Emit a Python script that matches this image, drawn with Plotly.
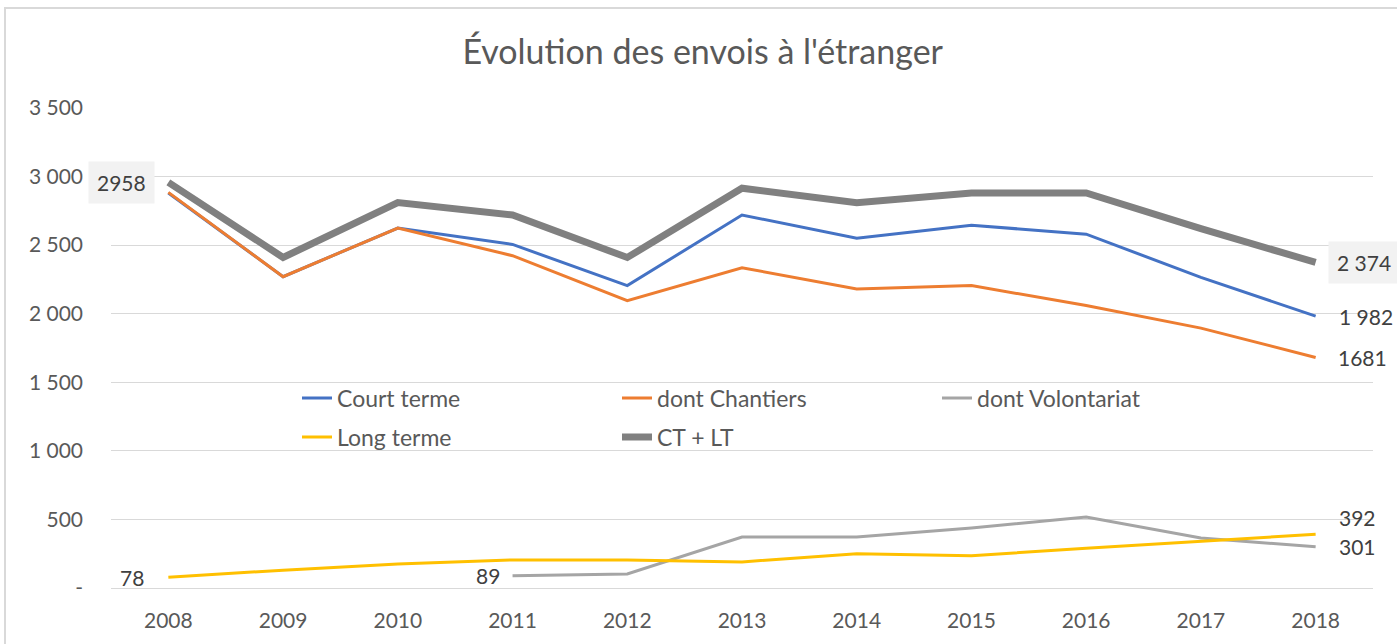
import plotly.graph_objects as go

years = ["2008", "2009", "2010", "2011", "2012", "2013", "2014", "2015", "2016", "2017", "2018"]
court_terme = [2880, 2270, 2625, 2505, 2205, 2720, 2550, 2645, 2580, 2265, 1982]
chantiers = [2885, 2270, 2625, 2423, 2095, 2335, 2180, 2205, 2060, 1895, 1681]
volontariat = [None, None, None, 89, 102, 372, 372, 438, 518, 365, 301]
long_terme = [78, 130, 175, 205, 205, 190, 250, 235, 290, 340, 392]
ct_lt = [2958, 2410, 2810, 2720, 2410, 2915, 2810, 2880, 2880, 2620, 2374]

y_tickvals = [0, 500, 1000, 1500, 2000, 2500, 3000, 3500]
y_ticktext = ["-", "500", "1 000", "1 500", "2 000", "2 500", "3 000", "3 500"]

FONT = "Lato"
TXT = "#595959"
LBL = "#404040"

fig = go.Figure()
fig.add_trace(go.Scatter(x=years, y=court_terme, name="Court terme", mode="lines",
                         line=dict(color="#4472C4", width=3), legend="legend"))
fig.add_trace(go.Scatter(x=years, y=chantiers, name="dont Chantiers", mode="lines",
                         line=dict(color="#ED7D31", width=3), legend="legend"))
fig.add_trace(go.Scatter(x=years, y=volontariat, name="dont Volontariat", mode="lines",
                         line=dict(color="#A5A5A5", width=3), legend="legend"))
fig.add_trace(go.Scatter(x=years, y=long_terme, name="Long terme", mode="lines",
                         line=dict(color="#FFC000", width=3), legend="legend2"))
fig.add_trace(go.Scatter(x=years, y=ct_lt, name="CT + LT", mode="lines",
                         line=dict(color="#808080", width=7), legend="legend2"))

last = len(years) - 1
ann_font = dict(family=FONT, size=21, color=LBL)
annotations = [
    dict(x=0, y=ct_lt[0], text=str(ct_lt[0]), xanchor="right", yanchor="middle",
         xshift=-13, bgcolor="#F2F2F2", borderpad=8),
    dict(x=last, y=ct_lt[last], text="2 374", xanchor="left", yanchor="middle",
         xshift=12, bgcolor="#F2F2F2", borderpad=8),
    dict(x=last, y=court_terme[last], text="1 982", xanchor="left", yanchor="middle", xshift=21),
    dict(x=last, y=chantiers[last], text=str(chantiers[last]), xanchor="left", yanchor="middle", xshift=20),
    dict(x=last, y=long_terme[last], text=str(long_terme[last]), xanchor="left", yanchor="middle",
         xshift=21, yshift=17),
    dict(x=last, y=volontariat[last], text=str(volontariat[last]), xanchor="left", yanchor="middle", xshift=21),
    dict(x=0, y=long_terme[0], text=str(long_terme[0]), xanchor="right", yanchor="middle", xshift=-22),
    dict(x=3, y=volontariat[3], text=str(volontariat[3]), xanchor="right", yanchor="middle", xshift=-11),
]
for a in annotations:
    a.update(xref="x", yref="y", showarrow=False, font=ann_font)

L, R, T, B = 111, 24, 108, 56
W, H = 1397, 644
pw = W - L - R
ph = H - T - B

def px_to_paper_x(px):
    return (px - L) / pw

def py_to_paper_y(py):
    return (H - B - py) / ph

legend_common = dict(orientation="h", xanchor="left", yanchor="middle", entrywidth=275,
                     bgcolor="rgba(0,0,0,0)", font=dict(family=FONT, size=23, color=TXT),
                     traceorder="normal")

fig.update_layout(
    width=W, height=H,
    margin=dict(l=L, r=R, t=T, b=B),
    paper_bgcolor="white", plot_bgcolor="white",
    title=dict(text="Évolution des envois à l'étranger", x=0.503, xanchor="center",
               y=1 - 52 / H, yanchor="middle",
               font=dict(family=FONT, size=34, color=TXT)),
    font=dict(family=FONT, color=TXT),
    xaxis=dict(type="category", range=[-0.5, 10.5], showgrid=False, showline=False,
               ticks="", tickfont=dict(family=FONT, size=21, color=TXT), ticklabelstandoff=18),
    yaxis=dict(range=[0, 3500], tickvals=y_tickvals, ticktext=y_ticktext,
               showgrid=True, gridcolor="#D9D9D9", gridwidth=1, zeroline=True,
               zerolinecolor="#D9D9D9", zerolinewidth=1, showline=False, ticks="",
               tickfont=dict(family=FONT, size=21, color=TXT), ticklabelstandoff=27),
    legend=dict(x=px_to_paper_x(297), y=py_to_paper_y(398), **legend_common),
    legend2=dict(x=px_to_paper_x(297), y=py_to_paper_y(437), **legend_common),
    annotations=annotations,
    shapes=[dict(type="rect", xref="paper", yref="paper",
                 x0=px_to_paper_x(5), x1=px_to_paper_x(1420),
                 y0=py_to_paper_y(700), y1=py_to_paper_y(8),
                 line=dict(color="#D9D9D9", width=2), fillcolor="rgba(0,0,0,0)", layer="below")],
)

fig.write_html("out.html", config={"displayModeBar": False},
               post_script="document.body.style.margin='0px';")
